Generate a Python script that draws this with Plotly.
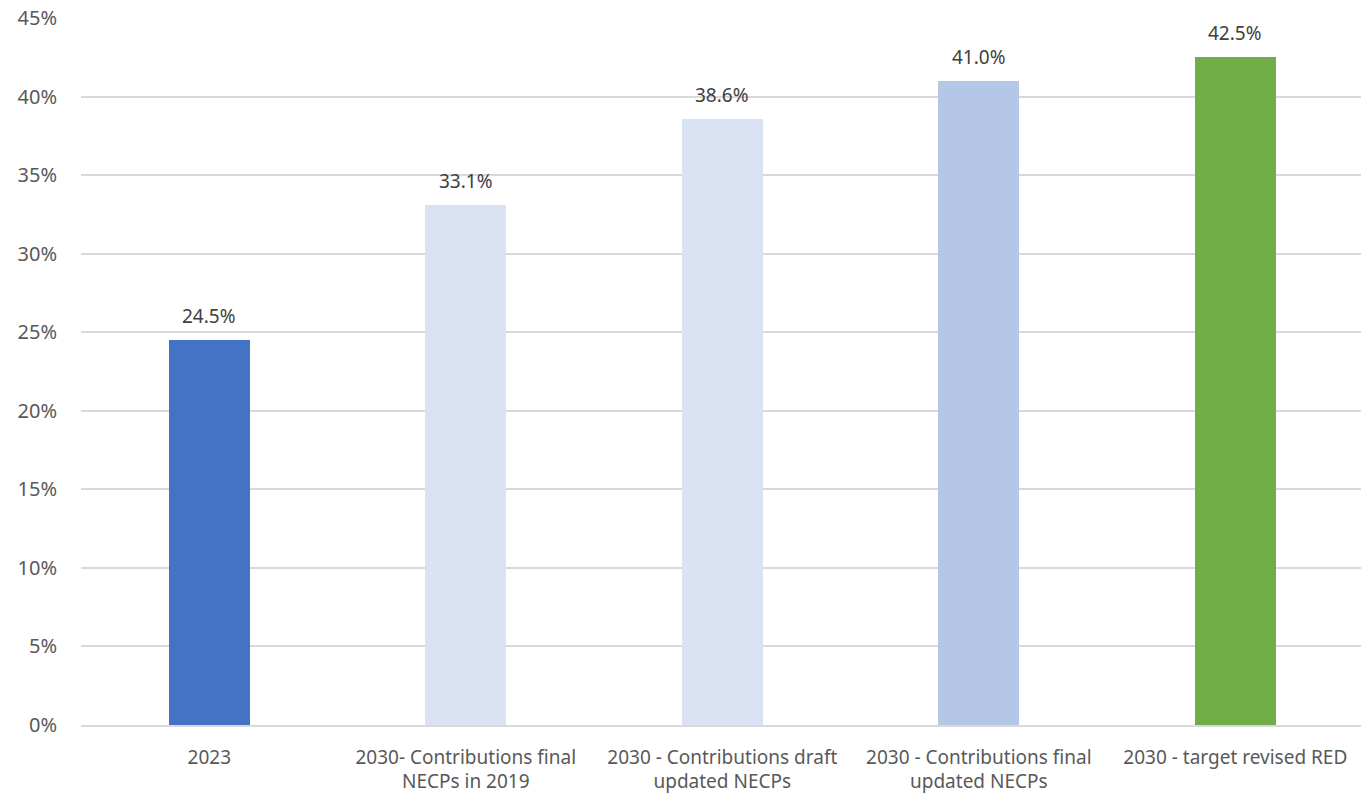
import plotly.graph_objects as go

categories = [
    "2023",
    "2030- Contributions final<br>NECPs in 2019",
    "2030 - Contributions draft<br>updated NECPs",
    "2030 - Contributions final<br>updated NECPs",
    "2030 - target revised RED",
]
values = [24.5, 33.1, 38.6, 41.0, 42.5]
bar_colors = ["#4472C4", "#DAE3F3", "#DAE3F3", "#B4C7E7", "#70AD47"]
tick_vals = [0, 5, 10, 15, 20, 25, 30, 35, 40, 45]
tick_text = [f"{v}%" for v in tick_vals]

FONT = "Noto Sans"

fig = go.Figure(
    go.Bar(
        x=categories,
        y=values,
        marker=dict(color=bar_colors, line=dict(width=0)),
        width=0.316,
        cliponaxis=False,
    )
)

for i, v in enumerate(values):
    fig.add_annotation(
        x=i, y=v, text=f"{v:.1f}%", showarrow=False,
        yanchor="bottom", yshift=9,
        font=dict(family=FONT, size=19, color="#404040"),
    )

fig.update_layout(
    width=1361,
    height=796,
    margin=dict(l=81, r=0, t=18, b=71),
    paper_bgcolor="white",
    plot_bgcolor="white",
    showlegend=False,
    bargap=0,
    font=dict(family=FONT, size=19, color="#595959"),
    xaxis=dict(
        type="category",
        range=[-0.5, 4.49],
        showline=True,
        linecolor="#d9d9d9",
        linewidth=1.5,
        ticks="",
        ticklabelstandoff=14,
        tickfont=dict(family=FONT, size=19, color="#595959"),
        showgrid=False,
    ),
    yaxis=dict(
        range=[0, 45],
        tickvals=tick_vals,
        ticktext=tick_text,
        showgrid=True,
        gridcolor="#d9d9d9",
        gridwidth=1.5,
        zeroline=False,
        showline=False,
        ticks="",
        ticklabelstandoff=23,
        tickfont=dict(family=FONT, size=20, color="#595959"),
    ),
)

fig.write_html("out.html")
